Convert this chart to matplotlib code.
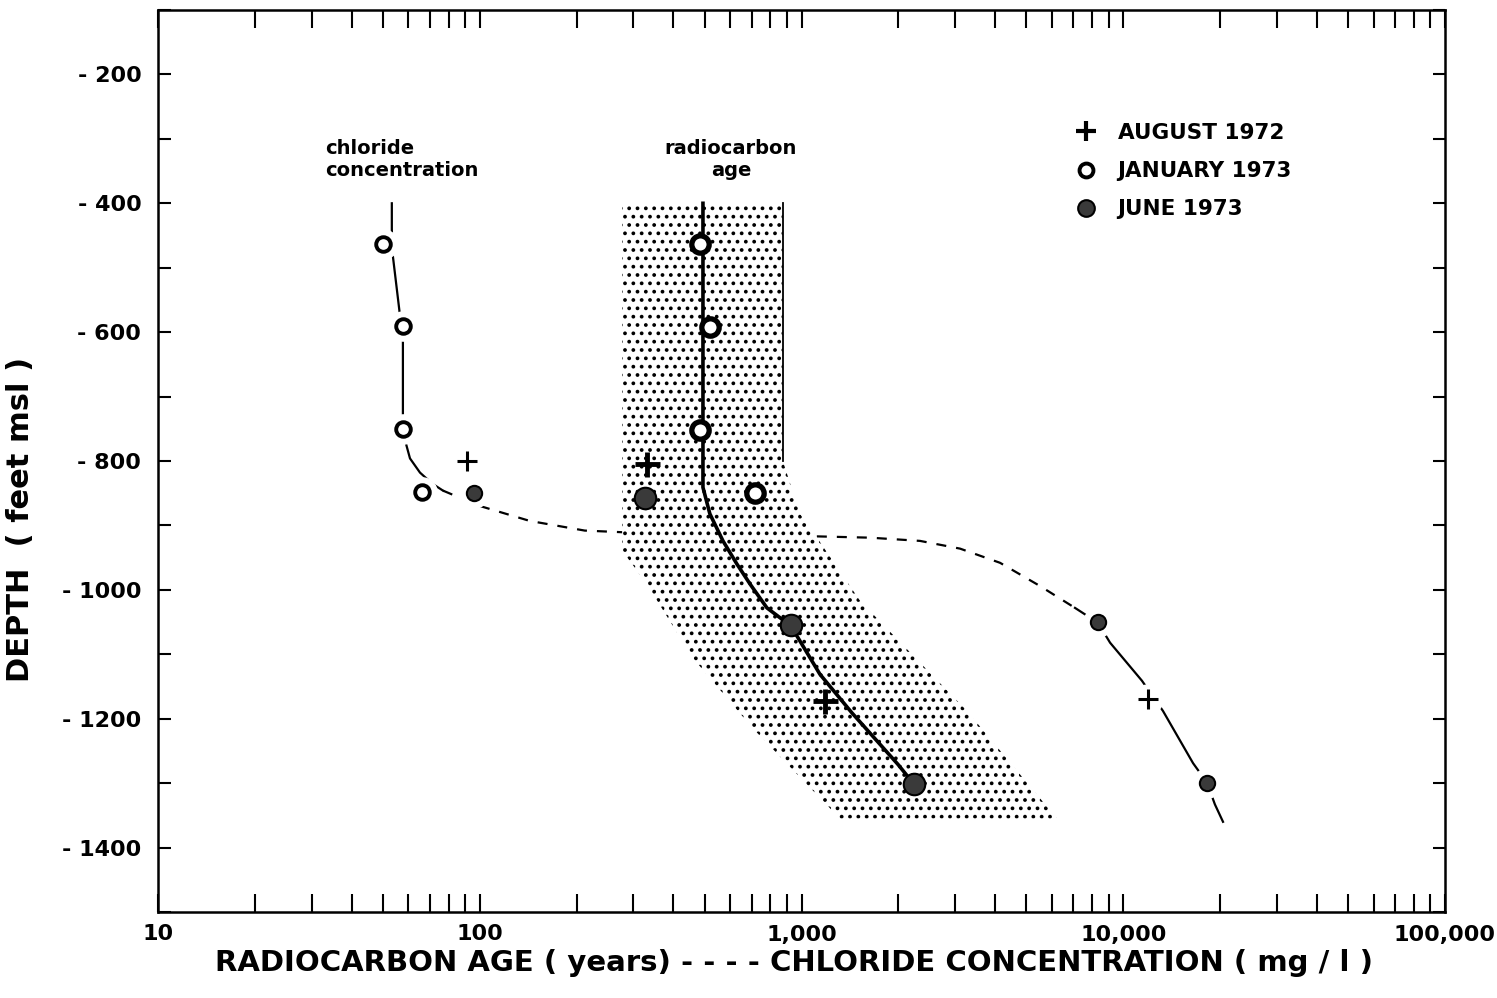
import matplotlib
matplotlib.use("Agg")
import matplotlib.pyplot as plt
from matplotlib.lines import Line2D
from matplotlib.ticker import LogLocator, MultipleLocator, FuncFormatter, NullFormatter

plt.rcParams['font.family'] = ['DejaVu Sans']
plt.rcParams['font.weight'] = 'bold'
plt.rcParams['hatch.linewidth'] = 1.5

# ---------------- data (x = mg/l or years, y = depth in feet msl) ----------------
# chloride concentration observations
cl_aug_x = [91, 11940]
cl_aug_y = [-800, -1170]
cl_jan_x = [50, 57.7, 57.7, 66]
cl_jan_y = [-463, -590, -750, -848]
cl_jun_x = [96, 8340, 18200]
cl_jun_y = [-850, -1050, -1300]

# radiocarbon age observations
rc_aug_x = [331, 1183]
rc_aug_y = [-804, -1173]
rc_jan_x = [484, 519, 484, 716]
rc_jan_y = [-463, -592, -752, -850]
rc_jun_x = [326, 927, 2240]
rc_jun_y = [-857, -1054, -1302]

# chloride fitted curve (upper solid, middle dashed, lower solid)
cl_up_x = [53.3, 53.3, 53.5, 53.7, 56.5, 57.7, 57.7, 58.6, 60.7, 65.2, 71.1, 76.9]
cl_up_y = [-400, -440, -470, -482, -574, -612, -750, -768, -796, -818, -835, -846]
cl_mid_x = [76.9, 98.8, 143, 212, 400, 700, 1117, 1633, 2335, 3110, 4140, 5510, 7080]
cl_mid_y = [-846, -869, -893, -908, -914, -916, -917, -919, -924, -936, -958, -994, -1028]
cl_low_x = [7080, 8340, 9100, 11430, 13290, 16480, 18200, 19270, 20420]
cl_low_y = [-1028, -1051, -1082, -1141, -1188, -1269, -1299, -1333, -1360]

# radiocarbon fitted curve
rc_fit_x = [494, 494, 494, 519, 570, 630, 692, 781, 927, 1141, 1435, 1995, 2240]
rc_fit_y = [-400, -784, -841, -882, -924, -960, -991, -1028, -1056, -1131, -1191, -1271, -1302]

# radiocarbon age uncertainty envelope
env_x = [277, 875, 875, 989, 1117, 1520, 3268, 6223, 1317, 706, 460, 345, 308, 277]
env_y = [-400, -400, -800, -882, -919, -1017, -1188, -1355, -1355, -1215, -1106, -1006, -970, -939]

legend_labels = ["AUGUST 1972", "JANUARY 1973", "JUNE 1973"]
x_tick_values = [10, 100, 1000, 10000, 100000]
y_label_values = [-200, -400, -600, -800, -1000, -1200, -1400]

DARK = '#3a3a3a'

# ---------------- figure ----------------
fig = plt.figure(figsize=(14.97, 9.98), dpi=100)
ax = fig.add_axes([158/1497, 1-912/998, (1445-158)/1497, (912-10)/998])
ax.set_xscale('log')
ax.set_xlim(10, 100000)
ax.set_ylim(-1500, -100)

# chloride curve
ax.plot(cl_up_x, cl_up_y, color='black', lw=1.6, zorder=1)
ax.plot(cl_mid_x, cl_mid_y, color='black', lw=1.6, ls=(0, (4.5, 4.5)), zorder=1)
ax.plot(cl_low_x, cl_low_y, color='black', lw=1.6, zorder=1)

# envelope
ax.fill(env_x, env_y, facecolor='white', edgecolor='black', linewidth=0,
        hatch='..', zorder=2)
ax.plot(env_x[1:3], env_y[1:3], color='black', lw=1.3, zorder=2.5)

# radiocarbon curve
ax.plot(rc_fit_x, rc_fit_y, color='black', lw=2.6, zorder=3)

# white halos around chloride markers (gaps in the line)
for xs, ys in [(cl_aug_x, cl_aug_y), (cl_jan_x, cl_jan_y), (cl_jun_x, cl_jun_y)]:
    ax.plot(xs, ys, ls='none', marker='o', ms=21, mfc='white', mec='white', zorder=4)

# chloride markers
ax.plot(cl_aug_x, cl_aug_y, ls='none', marker='+', ms=14, mew=2.2, color='black', zorder=5)
ax.plot(cl_jan_x, cl_jan_y, ls='none', marker='o', ms=10.5, mew=2.8, mfc='white', mec='black', zorder=5)
ax.plot(cl_jun_x, cl_jun_y, ls='none', marker='o', ms=11, mew=1.5, mfc=DARK, mec='black', zorder=5)

# radiocarbon markers
ax.plot(rc_aug_x, rc_aug_y, ls='none', marker='+', ms=18, mew=3.5, color='black', zorder=5)
ax.plot(rc_jan_x, rc_jan_y, ls='none', marker='o', ms=12.5, mew=3.8, mfc='white', mec='black', zorder=5)
ax.plot(rc_jun_x, rc_jun_y, ls='none', marker='o', ms=15.5, mew=1.5, mfc=DARK, mec='black', zorder=5)

# annotations
ax.text(33, -300, "chloride\nconcentration", fontsize=14, fontweight='bold',
        ha='left', va='top', linespacing=1.2)
ax.text(604, -300, "radiocarbon\nage", fontsize=14, fontweight='bold',
        ha='center', va='top', linespacing=1.2)

# legend
handles = [
    Line2D([], [], ls='none', marker='+', ms=15, mew=3, color='black'),
    Line2D([], [], ls='none', marker='o', ms=10, mew=2.8, mfc='white', mec='black'),
    Line2D([], [], ls='none', marker='o', ms=12, mew=1.5, mfc=DARK, mec='black'),
]
ax.legend(handles, legend_labels, loc='upper left', bbox_to_anchor=(0.713, 0.875),
          frameon=False, handlelength=1.0, handletextpad=0.95,
          labelspacing=0.85, borderpad=0, borderaxespad=0,
          prop={'weight': 'bold', 'size': 15.5})

# ticks
ax.set_xticks(x_tick_values)
ax.xaxis.set_minor_locator(LogLocator(base=10, subs=list(range(2, 10)), numticks=20))
ax.xaxis.set_major_formatter(FuncFormatter(lambda v, p: f"{int(round(v)):,}"))
ax.xaxis.set_minor_formatter(NullFormatter())
ax.yaxis.set_minor_locator(MultipleLocator(100))
ax.set_yticks(y_label_values)
ax.yaxis.set_major_formatter(FuncFormatter(lambda v, p: f"- {abs(int(round(v)))}"))

ax.tick_params(axis='x', which='both', direction='in', top=True, bottom=True,
               length=13, width=1.5, labelsize=16, pad=9)
ax.tick_params(axis='y', which='both', direction='in', left=True, right=True,
               length=9, width=1.5, labelsize=16, pad=12)
for lab in ax.get_xticklabels() + ax.get_yticklabels():
    lab.set_fontweight('bold')

for sp in ax.spines.values():
    sp.set_linewidth(1.8)

ax.set_xlabel("RADIOCARBON AGE ( years) - - - - CHLORIDE CONCENTRATION ( mg / l )",
              fontsize=21, fontweight='bold', labelpad=3)
ax.xaxis.label.set_x(0.494)
ax.set_ylabel("DEPTH  ( feet msl )", fontsize=22, fontweight='bold')
ax.yaxis.set_label_coords(-0.0956, 0.435)

fig.savefig("out.png", dpi=100, facecolor='white')
